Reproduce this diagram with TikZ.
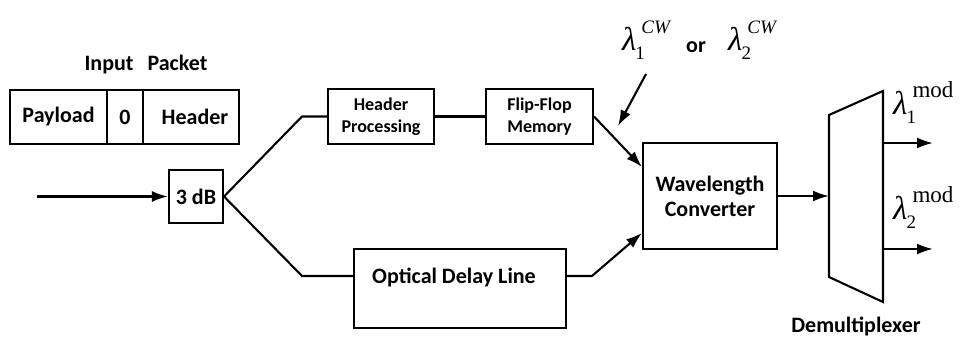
\documentclass[tikz,border=0pt]{standalone}
\usepackage{fontspec}
\setmainfont{Carlito}
\newfontfamily\tnr{Liberation Serif}
\usetikzlibrary{arrows.meta}

\tikzset{
  blk/.style={draw, line width=2.1pt, inner sep=0pt, align=center,
    font=\fontsize{22}{25}\selectfont\bfseries},
  smallblk/.style={blk, font=\fontsize{18}{22}\selectfont\bfseries},
  lbl/.style={inner sep=0pt, font=\fontsize{22}{25}\selectfont\bfseries},
  lam/.style={inner sep=0pt, anchor=base west},
  wire/.style={line width=2.1pt},
  arr/.style={wire, -{Latex[length=16pt,width=11pt]}},
}
% lambda with subscript #1 and superscript #2
\newcommand{\lamsym}[2]{{\tnr\itshape\fontsize{33}{33}\selectfont λ}\kern-1pt\rlap{\raisebox{-9pt}{\tnr\fontsize{19}{19}\selectfont #1}}\kern6pt\raisebox{17pt}{#2}}
\newcommand{\cwsup}{\tnr\itshape\fontsize{19}{19}\selectfont CW}
\newcommand{\modsup}{\tnr\fontsize{23}{23}\selectfont mod}

\begin{document}
\begin{tikzpicture}[x=1pt,y=-1pt]
\useasboundingbox (0,0) rectangle (967,339);
% input packet
\node[lbl] (inlabel) at (146,65) {Input\hspace{14pt}Packet};
\node[blk, minimum width=97, minimum height=54] (payload) at (58.5,117) {Payload};
\node[blk, minimum width=36, minimum height=54] (zero) at (125,117) {0};
\node[blk, minimum width=96, minimum height=54] (header) at (191,117) {\hspace{8pt}Header};

% splitter
\coordinate (src) at (37,196.5);
\node[blk, minimum width=54, minimum height=53] (split) at (196,196.5) {3 dB};
\draw[arr] (src) -- (split);

% upper branch
\node[smallblk, minimum width=106, minimum height=55] (hp) at (381,116.5) {Header\\Processing};
\node[smallblk, minimum width=107, minimum height=55] (ff) at (539.5,116.5) {Flip-Flop\\Memory};
\coordinate (bendup) at (302,116.5);
\draw[wire] (split.east) -- (bendup) -- (hp.west);
\draw[wire] (hp) -- (ff);

% lower branch
\node[blk, minimum width=212, minimum height=79, text height=15pt, text depth=25pt] (odl) at (460,288.5) {Optical Delay Line\hspace{12pt}};
\coordinate (benddn) at (302,276);
\draw[wire] (split.east) -- (benddn) -- ([yshift=12.5pt]odl.west);

% converter
\node[blk, minimum width=134, minimum height=106] (wc) at (710,196) {Wavelength\\Converter};
\coordinate (bendodl) at (592,276);
\draw[arr] (ff.east) -- ([yshift=29pt]wc.west);
\draw[arr] ([yshift=12.5pt]odl.east) -- (bendodl) -- ([yshift=-37pt]wc.west);

% cw pump
\coordinate (cwfrom) at (646,74);
\coordinate (cwto) at (618,126);
\draw[arr] (cwfrom) -- (cwto);
\node[lam] (lamcw1) at (622,51) {\lamsym{1}{\cwsup}};
\node[lbl, anchor=base west] (orword) at (686,53) {or};
\node[lam] (lamcw2) at (728,51) {\lamsym{2}{\cwsup}};

% demultiplexer
\coordinate (dmtl) at (829,115);
\coordinate (dmtr) at (883,91);
\coordinate (dmbr) at (883,302);
\coordinate (dmbl) at (829,277);
\draw[wire] (dmtl) -- (dmtr) -- (dmbr) -- (dmbl) -- cycle;
\coordinate (dmin) at (829,196);
\draw[arr] (wc.east) -- (dmin);
\coordinate (outa) at (883,143);
\coordinate (outaend) at (933,143);
\coordinate (outb) at (883,249);
\coordinate (outbend) at (933,249);
\draw[arr] (outa) -- (outaend);
\draw[arr] (outb) -- (outbend);
\node[lam] (lammod1) at (893,115) {\lamsym{1}{\modsup}};
\node[lam] (lammod2) at (893,220) {\lamsym{2}{\modsup}};
\node[lbl, anchor=base] (demuxlabel) at (856,332) {Demultiplexer};
\end{tikzpicture}
\end{document}
